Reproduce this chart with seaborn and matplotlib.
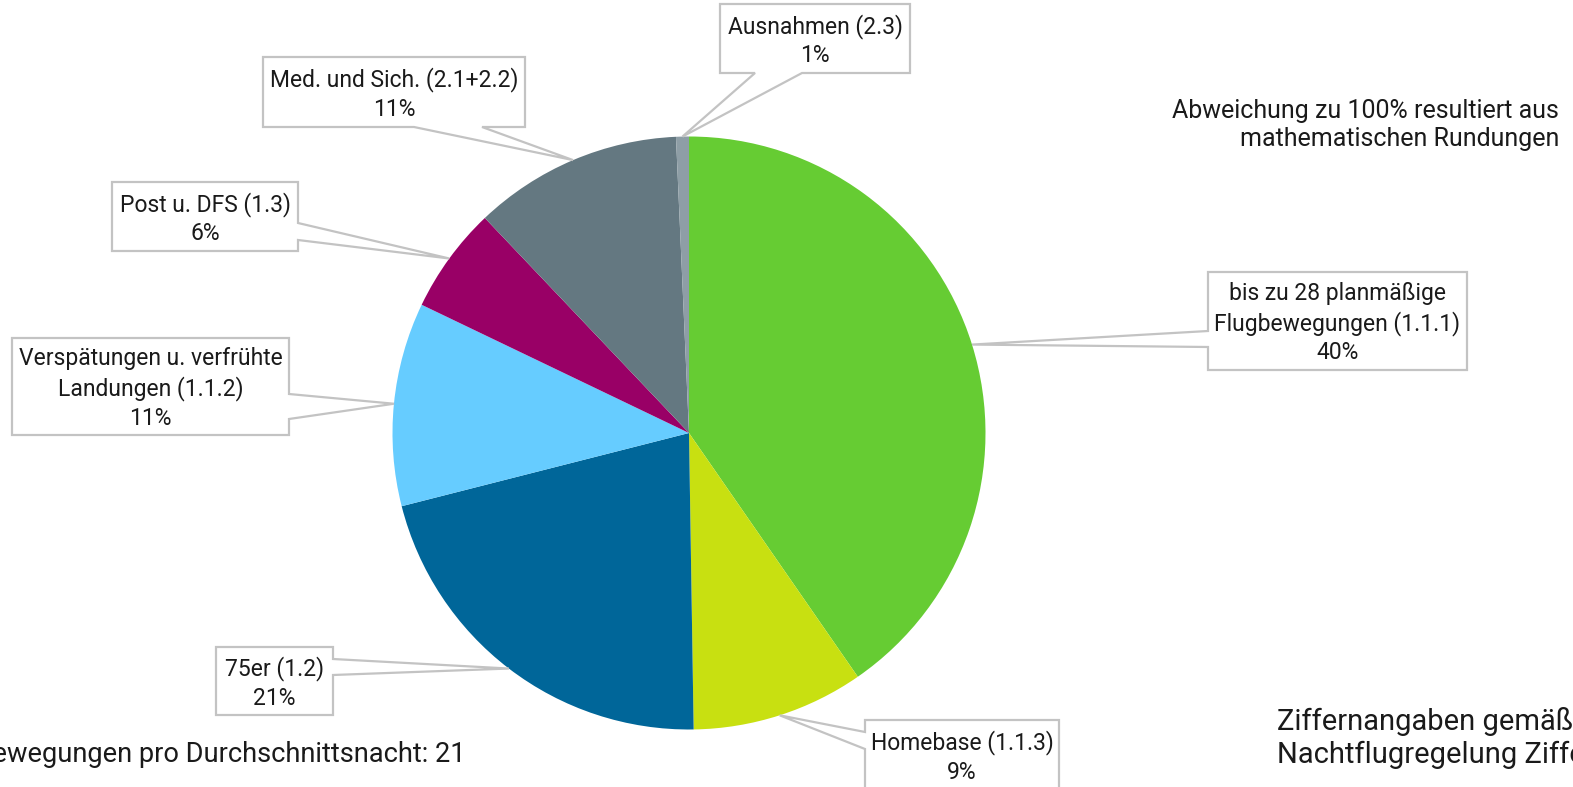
import matplotlib
matplotlib.use("Agg")
import matplotlib.pyplot as plt
import numpy as np
import seaborn as sns
from matplotlib.patches import Polygon

# Anteile der Flugbewegungen
categories = ["bis zu 28 planmäßige\nFlugbewegungen (1.1.1)", "Homebase (1.1.3)", "75er (1.2)",
              "Verspätungen u. verfrühte\nLandungen (1.1.2)", "Post u. DFS (1.3)",
              "Med. und Sich. (2.1+2.2)", "Ausnahmen (2.3)"]
values = [40.4, 9.4, 21.3, 11.1, 5.8, 11.4, 0.7]
pct_labels = ["40%", "9%", "21%", "11%", "6%", "11%", "1%"]
colors = ["#66cc33", "#c8e011", "#006699", "#66ccff", "#990066", "#647881", "#8e9ea6"]

# Callout boxes in pixel coords: (x0, y0, x1, y1), side of pointer, pointer attach span
boxes = [(1208, 272, 1467, 370), (865, 720, 1059, 790), (216, 647, 333, 715),
         (12, 338, 289, 435), (112, 182, 298, 251), (263, 57, 525, 127), (720, 4, 910, 73)]
sides = ["left", "left", "right", "right", "right", "bottom", "bottom"]
spans = [(331, 347), (732, 749), (659, 675), (394, 419), (223, 240), (414, 482), (755, 802)]

W, H = 1573, 787
sns.set_theme(style="white")
plt.rcParams["font.family"] = ["Roboto", "DejaVu Sans"]

fig = plt.figure(figsize=(W / 100, H / 100), dpi=100)
ax = fig.add_axes([0, 0, 1, 1])

cx, cy, r = 689, H - 433, 296.5
wedges, _ = ax.pie(values, colors=colors, startangle=90, counterclock=False,
                   center=(cx, cy), radius=r, wedgeprops=dict(linewidth=0))
ax.set_xlim(0, W)
ax.set_ylim(0, H)
ax.set_aspect("equal")
ax.axis("off")


def callout(box, side, span, tip, text):
    x0, y0, x1, y1 = box
    a, b = min(span), max(span)
    tx, ty = tip
    if side == "bottom":
        pts = [(x0, y0), (x1, y0), (x1, y1), (b, y1), (tx, ty), (a, y1), (x0, y1)]
    elif side == "right":
        pts = [(x0, y0), (x1, y0), (x1, a), (tx, ty), (x1, b), (x1, y1), (x0, y1)]
    else:
        pts = [(x0, y0), (x1, y0), (x1, y1), (x0, y1), (x0, b), (tx, ty), (x0, a)]
    pts = [(px, H - py) for px, py in pts]
    ax.add_patch(Polygon(pts, closed=True, facecolor="white", edgecolor="#c3c3c3",
                         linewidth=1.6, zorder=5, clip_on=False))
    ymid = (y0 + y1) / 2 + 2
    ax.text((x0 + x1) / 2, H - ymid, text, ha="center", va="center", multialignment="center",
            fontsize=16.5, color="#1a1a1a", linespacing=1.3, zorder=6)


for w, cat, pct, box, side, span in zip(wedges, categories, pct_labels, boxes, sides, spans):
    mid = np.deg2rad((w.theta1 + w.theta2) / 2)
    tip = (cx + r * np.cos(mid), H - (cy + r * np.sin(mid)))
    callout(box, side, span, tip, cat + "\n" + pct)

ax.text(1559, H - 125, "Abweichung zu 100% resultiert aus\nmathematischen Rundungen",
        ha="right", va="center", multialignment="right", fontsize=18, color="#1a1a1a",
        linespacing=1.25)
ax.text(466, H - 754, "Flugbewegungen pro Durchschnittsnacht: 21", ha="right", va="center",
        fontsize=19.6, color="#1a1a1a")
ax.text(1277, H - 738, "Ziffernangaben gemäß\nNachtflugregelung Ziffer", ha="left", va="center",
        multialignment="left", fontsize=21, color="#1a1a1a", linespacing=1.2)

fig.savefig("out.png", dpi=100, facecolor="white")
